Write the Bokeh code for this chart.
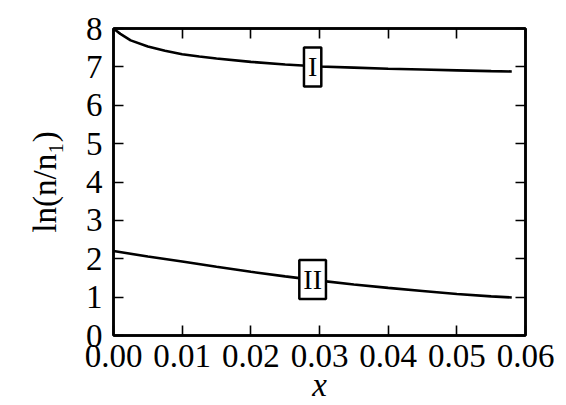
from bokeh.plotting import figure
from bokeh.models import Range1d, FixedTicker, LinearAxis, Label, CustomJSTickFormatter
from bokeh.embed import file_html
from bokeh.resources import INLINE

# ---- data ----
x_I = [0.0, 0.0005, 0.001, 0.0025, 0.005, 0.0075, 0.01, 0.0125, 0.015, 0.02, 0.025,
       0.03, 0.035, 0.04, 0.045, 0.05, 0.055, 0.058]
y_I = [8.0, 7.93, 7.86, 7.69, 7.53, 7.42, 7.33, 7.27, 7.22, 7.13, 7.06,
       7.01, 6.98, 6.95, 6.93, 6.91, 6.89, 6.88]

x_II = [0.0, 0.005, 0.01, 0.015, 0.02, 0.025, 0.03, 0.035, 0.04, 0.045,
        0.05, 0.055, 0.058]
y_II = [2.20, 2.06, 1.93, 1.79, 1.66, 1.54, 1.43, 1.33, 1.24, 1.16,
        1.08, 1.02, 0.99]

x_ticks = [0.0, 0.01, 0.02, 0.03, 0.04, 0.05, 0.06]
x_tick_labels = ["0.00", "0.01", "0.02", "0.03", "0.04", "0.05", "0.06"]
y_ticks = [0, 1, 2, 3, 4, 5, 6, 7, 8]
y_tick_labels = ["0", "1", "2", "3", "4", "5", "6", "7", "8"]

curve_labels = ["I", "II"]
curve_label_x = [0.029, 0.029]
curve_label_y = [7.0, 1.46]

x_title = "x"
y_title = "ln(n/n\u2081)"

FONT = "Liberation Serif"

p = figure(width=558, height=397, output_backend="svg", toolbar_location=None,
           x_range=Range1d(0, 0.06), y_range=Range1d(0, 8),
           frame_width=412, frame_height=307,
           min_border_left=113, min_border_right=33,
           min_border_top=28, min_border_bottom=62)
p.grid.visible = False
p.outline_line_color = "black"
p.outline_line_width = 2.5
p.background_fill_color = "white"
p.border_fill_color = "white"

p.line(x_I, y_I, line_color="black", line_width=2.6)
p.line(x_II, y_II, line_color="black", line_width=2.6)

def style_axis(ax, ticks, show_labels, overrides=None):
    ax.ticker = FixedTicker(ticks=ticks)
    ax.axis_line_color = "black"
    ax.axis_line_width = 2.5
    ax.major_tick_line_color = "black"
    ax.major_tick_line_width = 1.6
    ax.major_tick_in = 10
    ax.major_tick_out = 0
    ax.minor_tick_line_color = None
    ax.major_label_text_font = FONT
    ax.major_label_text_font_size = "33px"
    ax.major_label_text_color = "black"
    if show_labels:
        ax.major_label_overrides = overrides
    else:
        ax.formatter = CustomJSTickFormatter(code="return ''")

xb = p.xaxis[0]
yl = p.yaxis[0]
style_axis(xb, x_ticks, True, {t: s for t, s in zip(x_ticks, x_tick_labels)})
style_axis(yl, y_ticks, True, {t: s for t, s in zip(y_ticks, y_tick_labels)})
xb.major_label_standoff = 9
yl.major_label_standoff = 11

xb.axis_label = x_title
xb.axis_label_text_font = FONT
xb.axis_label_text_font_size = "33px"
xb.axis_label_text_font_style = "italic"
xb.axis_label_text_color = "black"
xb.axis_label_standoff = -3

yl.axis_label = y_title
yl.axis_label_text_font = FONT
yl.axis_label_text_font_size = "33px"
yl.axis_label_text_font_style = "normal"
yl.axis_label_text_color = "black"
yl.axis_label_standoff = 20

xt = LinearAxis()
style_axis(xt, x_ticks, False)
p.add_layout(xt, "above")
yr = LinearAxis()
style_axis(yr, y_ticks, False)
p.add_layout(yr, "right")

# curve labels
for t, lx, ly in zip(curve_labels, curve_label_x, curve_label_y):
    p.add_layout(Label(x=lx, y=ly, text=t, text_align="center", text_baseline="middle",
                       text_font=FONT, text_font_size="28px", text_color="black",
                       background_fill_color="white", border_line_color="black",
                       border_line_width=2.5, padding=4))

open("out.html", "w").write(file_html(p, INLINE))
